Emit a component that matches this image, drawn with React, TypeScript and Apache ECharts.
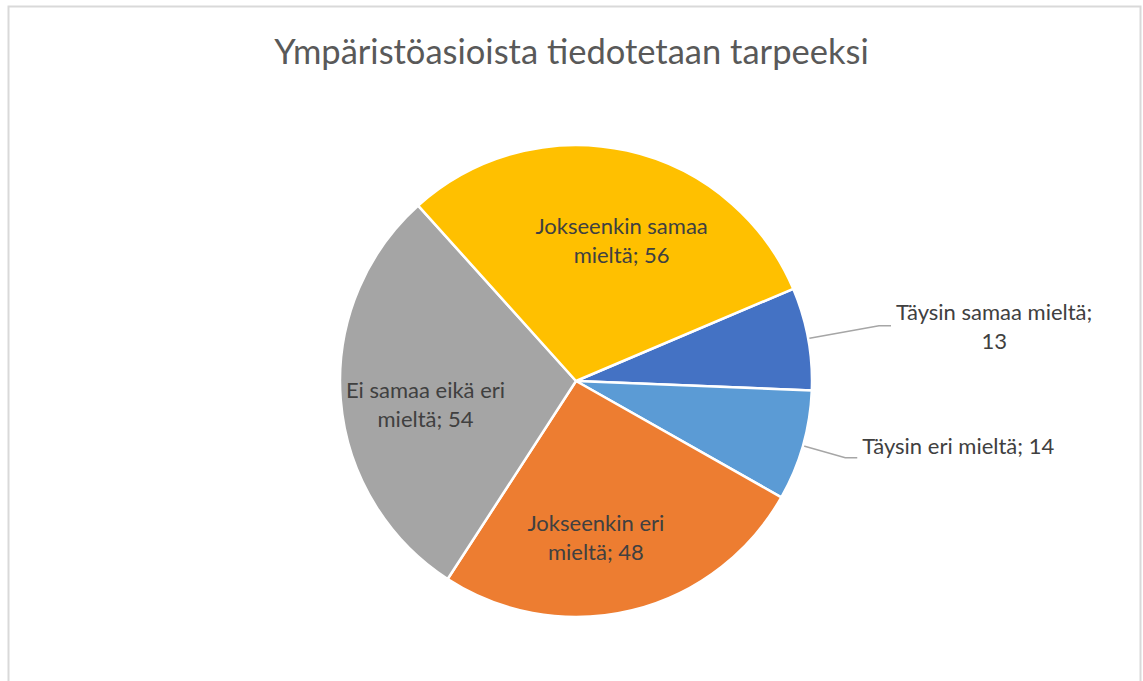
import React, { useEffect, useRef } from "react";
import * as echarts from "echarts";

const titleText = "Ympäristöasioista tiedotetaan tarpeeksi";
const categories = [
  "Täysin samaa mieltä",
  "Täysin eri mieltä",
  "Jokseenkin eri mieltä",
  "Ei samaa eikä eri mieltä",
  "Jokseenkin samaa mieltä",
];
const values = [13, 14, 48, 54, 56];
const displayLabels = [
  "Täysin samaa mieltä;\n13",
  "Täysin eri mieltä; 14",
  "Jokseenkin eri\nmieltä; 48",
  "Ei samaa eikä eri\nmieltä; 54",
  "Jokseenkin samaa\nmieltä; 56",
];
const colors = ["#4472C4", "#5B9BD5", "#ED7D31", "#A5A5A5", "#FFC000"];
const outsideIdx = [0, 1];

const FONT = "Lato, 'Open Sans', sans-serif";

// small label nudges (Excel "best fit" placement) for inside labels
const insideNudge: Record<number, [number, number]> = {
  2: [-17, 5],
  3: [4, 11],
  4: [12, 10],
};

export default function App() {
  const ref = useRef<HTMLDivElement>(null);
  useEffect(() => {
    if (!ref.current) return;
    const chart = echarts.init(ref.current, null, { renderer: "svg" });
    const mainData = categories.map((name, i) => {
      const isOut = outsideIdx.includes(i);
      return {
        name,
        value: values[i],
        itemStyle: { color: colors[i] },
        label: isOut
          ? {
              show: true,
              padding: i === 1 ? [0, 0, 24, 0] : 0,
              formatter: () =>
                displayLabels[i]
                  .split("\n")
                  .map((l) => `{a|${l}}`)
                  .join("\n"),
            }
          : { show: false },
        labelLine: isOut
          ? { show: true, length: i === 0 ? 72 : 44, length2: 12 }
          : { show: false },
      };
    });
    const innerData = categories.map((name, i) => {
      const isOut = outsideIdx.includes(i);
      return {
        name,
        value: values[i],
        itemStyle: { color: "rgba(0,0,0,0)" },
        label: { show: !isOut, formatter: () => displayLabels[i] },
      };
    });
    chart.setOption({
      animation: false,
      backgroundColor: "#ffffff",
      title: {
        text: titleText,
        left: "center",
        top: 28,
        textStyle: {
          fontFamily: FONT,
          fontSize: 34.5,
          fontWeight: "normal",
          color: "#595959",
        },
      },
      graphic: [
        {
          type: "rect",
          shape: { x: 8.5, y: 6.5, width: 1132, height: 720 },
          style: { fill: "none", stroke: "#d9d9d9", lineWidth: 2 },
          silent: true,
        },
      ],
      series: [
        {
          type: "pie",
          center: [576, 381],
          radius: [0, 236],
          startAngle: 23,
          clockwise: true,
          avoidLabelOverlap: false,
          itemStyle: { borderColor: "#ffffff", borderWidth: 2.5 },
          label: {
            position: "outside",
            fontFamily: FONT,
            fontSize: 22,
            color: "#404040",
            lineHeight: 29,
            rich: {
              a: {
                align: "center",
                fontFamily: FONT,
                fontSize: 22,
                color: "#404040",
                lineHeight: 29,
              },
            },
          },
          labelLine: {
            lineStyle: { color: "#a6a6a6", width: 1.5 },
            smooth: false,
          },
          emphasis: { disabled: true },
          data: mainData,
        },
        {
          type: "pie",
          center: [576, 381],
          radius: [68, 236],
          startAngle: 23,
          clockwise: true,
          silent: true,
          avoidLabelOverlap: false,
          itemStyle: { borderWidth: 0 },
          label: {
            position: "inside",
            fontFamily: FONT,
            fontSize: 22,
            color: "#404040",
            lineHeight: 29,
            align: "center",
          },
          labelLayout: (params: any) => {
            const n = insideNudge[params.dataIndex];
            return n ? { dx: n[0], dy: n[1] } : {};
          },
          labelLine: { show: false },
          emphasis: { disabled: true },
          data: innerData,
        },
      ],
    });
    return () => chart.dispose();
  }, []);
  return (
    <div
      ref={ref}
      style={{
        position: "absolute",
        left: 0,
        top: 0,
        width: 1143,
        height: 681,
        background: "#fff",
      }}
    />
  );
}
